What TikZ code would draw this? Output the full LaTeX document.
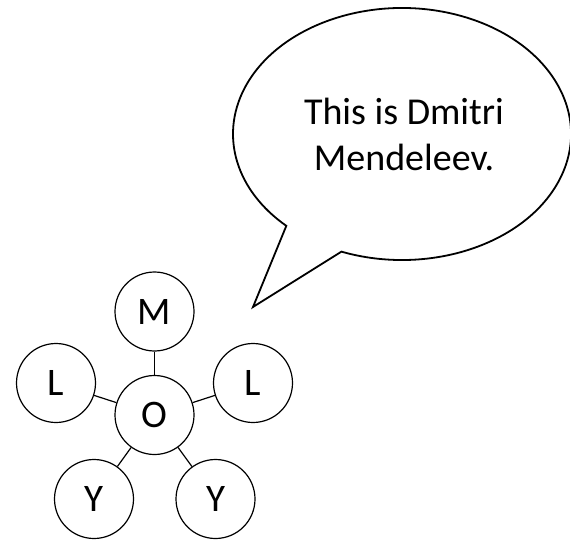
\documentclass[tikz,border=0pt]{standalone}
\usepackage{fontspec}
\setmainfont{Carlito}
\begin{document}
\begin{tikzpicture}[x=1pt,y=1pt,
  atom/.style={circle,draw,line width=1.2pt,minimum size=79pt,inner sep=0pt,font=\fontsize{39}{44}\selectfont},
  bond/.style={line width=1.2pt},
  bubble/.style={line width=1.8pt,line join=miter}]
\useasboundingbox (0,0) rectangle (570,539);
% speech bubble
\coordinate (bc) at (402,405);
\coordinate (tip) at (253,232);
\draw[bubble] (bc) ++(249:169 and 126) arc[start angle=249,end angle=586.8,x radius=169,y radius=126] -- (tip) -- cycle;
\node[align=center,font=\fontsize{38}{46}\selectfont] (say) at (404,405) {This is Dmitri\\Mendeleev.};
% molecule
\node[atom] (O) at (154.5,124) {O};
\node[atom] (M) at (154.5,227.5) {M};
\node[atom] (L1) at (56,156) {L};
\node[atom] (L2) at (253,156) {L};
\node[atom] (Y1) at (94,40) {Y};
\node[atom] (Y2) at (215.5,40) {Y};
\draw[bond] (O) -- (M);
\draw[bond] (O) -- (L1);
\draw[bond] (O) -- (L2);
\draw[bond] (O) -- (Y1);
\draw[bond] (O) -- (Y2);
\end{tikzpicture}
\end{document}
